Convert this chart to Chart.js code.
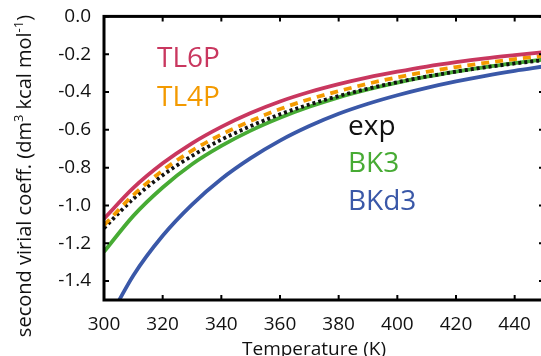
<!DOCTYPE html>
<html>
<head>
<meta charset="utf-8">
<script src="https://cdn.jsdelivr.net/npm/chart.js@4.4.1/dist/chart.umd.min.js"></script>
<style>
  html, body { margin: 0; padding: 0; background: #fff; overflow: hidden; }
  #wrap { width: 546px; height: 356px; }
</style>
</head>
<body>
<div id="wrap"><canvas id="chart" width="546" height="356"></canvas></div>
<script>
// Second virial coefficient of water vs temperature, several models + experiment
const temperatures = [300, 310, 320, 330, 340, 350, 360, 370, 380, 390, 400, 410, 420, 430, 440, 450];

const tl6p = [-1.07, -0.907, -0.777, -0.671, -0.584, -0.511, -0.450, -0.400, -0.358, -0.322, -0.292, -0.265, -0.242, -0.222, -0.205, -0.189];
const tl4p = [-1.105, -0.945, -0.815, -0.71, -0.625, -0.553, -0.490, -0.438, -0.395, -0.356, -0.322, -0.293, -0.268, -0.246, -0.226, -0.208];
const expData = [-1.12, -0.965, -0.84, -0.738, -0.652, -0.580, -0.518, -0.466, -0.421, -0.382, -0.348, -0.318, -0.292, -0.269, -0.249, -0.231];
const bk3 = [-1.245, -1.055, -0.905, -0.782, -0.685, -0.604, -0.536, -0.478, -0.428, -0.386, -0.350, -0.319, -0.292, -0.268, -0.247, -0.228];
const bkd3 = [-1.65, -1.37, -1.16, -0.995, -0.860, -0.750, -0.657, -0.580, -0.515, -0.462, -0.417, -0.378, -0.344, -0.314, -0.288, -0.265];

const seriesNames = ['TL6P', 'TL4P', 'exp', 'BK3', 'BKd3'];
const seriesColors = ['#c9375f', '#f39a00', '#111111', '#47ab34', '#3a58a8'];

const xTicks = [300, 320, 340, 360, 380, 400, 420, 440];
const yTicks = [0, -0.2, -0.4, -0.6, -0.8, -1.0, -1.2, -1.4];

const FONT = '"Open Sans", "DejaVu Sans", sans-serif';

function toPoints(ys) {
  return temperatures.map((t, i) => ({ x: t, y: ys[i] }));
}

// frame, inward ticks, axis titles and series names
const decorations = {
  id: 'decorations',
  afterDraw(chart) {
    const { ctx, chartArea: a, scales } = chart;
    ctx.save();

    ctx.strokeStyle = '#000';
    ctx.lineWidth = 3;
    ctx.strokeRect(a.left, a.top, a.right - a.left, a.bottom - a.top);

    ctx.lineWidth = 2;
    ctx.beginPath();
    xTicks.forEach(v => {
      const px = scales.x.getPixelForValue(v);
      ctx.moveTo(px, a.bottom); ctx.lineTo(px, a.bottom - 5);
      ctx.moveTo(px, a.top); ctx.lineTo(px, a.top + 5);
    });
    yTicks.forEach(v => {
      const py = scales.y.getPixelForValue(v);
      ctx.moveTo(a.left, py); ctx.lineTo(a.left + 5, py);
      ctx.moveTo(a.right, py); ctx.lineTo(a.right - 5, py);
    });
    ctx.stroke();

    // x title
    ctx.fillStyle = '#111';
    ctx.font = '19px ' + FONT;
    ctx.textAlign = 'center';
    ctx.textBaseline = 'alphabetic';
    ctx.fillText('Temperature (K)', 314, 355);

    // y title with superscripts
    const parts = [
      ['second virial coeff. (dm', false],
      ['3', true],
      [' kcal mol', false],
      ['-1', true],
      [')', false]
    ];
    const mainFont = '20px ' + FONT;
    const supFont = '13px ' + FONT;
    let total = 0;
    parts.forEach(([s, sup]) => {
      ctx.font = sup ? supFont : mainFont;
      total += ctx.measureText(s).width;
    });
    ctx.translate(31, 176);
    ctx.rotate(-Math.PI / 2);
    ctx.textAlign = 'left';
    let cx = -total / 2;
    parts.forEach(([s, sup]) => {
      ctx.font = sup ? supFont : mainFont;
      ctx.fillText(s, cx, sup ? -8 : 0);
      cx += ctx.measureText(s).width;
    });
    ctx.setTransform(1, 0, 0, 1, 0, 0);

    // series names
    const namePos = [[157, 67], [157, 106], [348, 135], [348, 172], [348, 210]];
    ctx.font = '28px ' + FONT;
    ctx.textAlign = 'left';
    seriesNames.forEach((n, i) => {
      ctx.fillStyle = seriesColors[i];
      ctx.fillText(n, namePos[i][0], namePos[i][1]);
    });

    ctx.restore();
  }
};

const dashes = [[], [8, 6], [3, 3], [], []];
const seriesData = [tl6p, tl4p, expData, bk3, bkd3];

new Chart(document.getElementById('chart'), {
  type: 'line',
  data: {
    datasets: seriesData.map((ys, i) => ({
      label: seriesNames[i],
      data: toPoints(ys),
      borderColor: seriesColors[i],
      borderWidth: 3.8,
      borderDash: dashes[i],
      borderCapStyle: 'butt',
      pointRadius: 0,
      cubicInterpolationMode: 'monotone',
      fill: false
    }))
  },
  options: {
    responsive: false,
    animation: false,
    layout: { padding: { top: 13, right: 2, bottom: 0, left: 0 } },
    plugins: { legend: { display: false }, tooltip: { enabled: false } },
    scales: {
      x: {
        type: 'linear',
        min: 300,
        max: 450,
        grid: { display: false },
        border: { display: false },
        afterBuildTicks: s => { s.ticks = xTicks.map(v => ({ value: v })); },
        afterFit: s => { s.height = 56; },
        ticks: {
          padding: 5,
          maxRotation: 0,
          color: '#111',
          font: { family: FONT, size: 19 },
          callback: v => String(v)
        }
      },
      y: {
        min: -1.5,
        max: 0,
        grid: { display: false },
        border: { display: false },
        afterBuildTicks: s => { s.ticks = yTicks.map(v => ({ value: v })); },
        afterFit: s => { s.width = 104; },
        ticks: {
          padding: 5,
          color: '#111',
          font: { family: FONT, size: 19 },
          callback: v => v.toFixed(1)
        }
      }
    }
  },
  plugins: [decorations]
});
</script>
</body>
</html>
